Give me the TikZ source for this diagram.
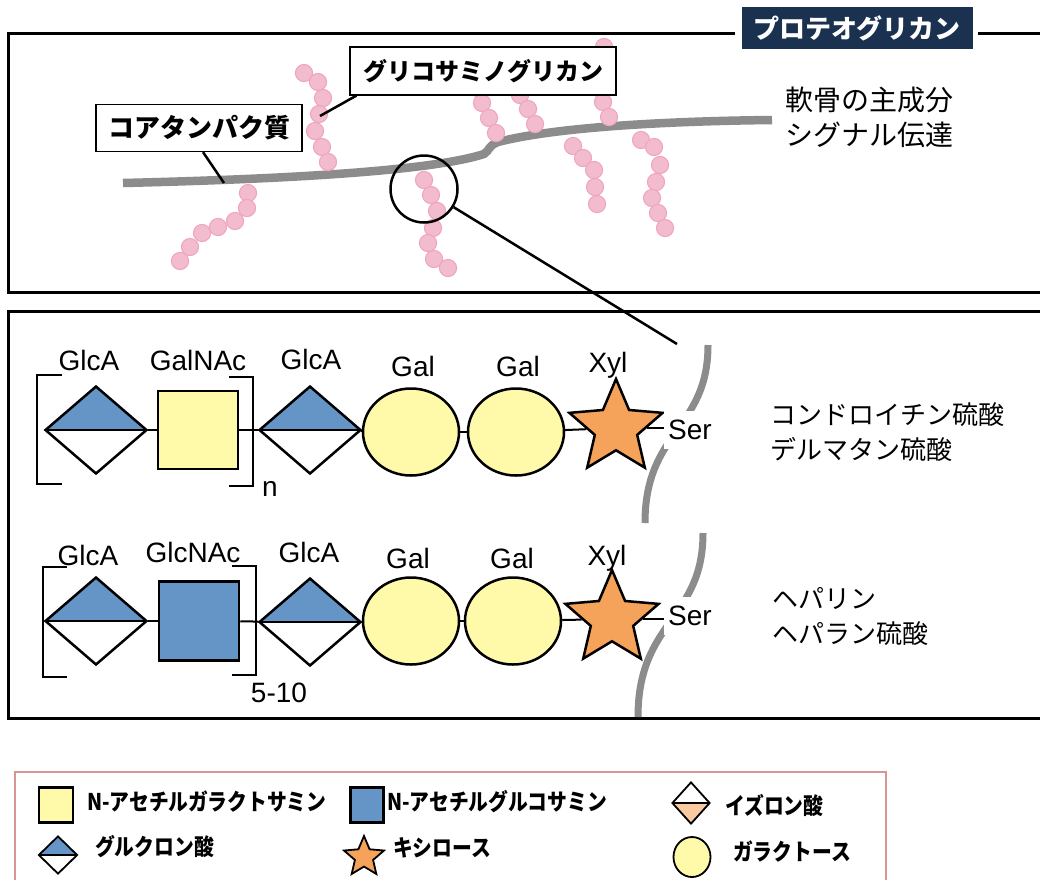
\documentclass[tikz,border=0pt]{standalone}
\usepackage{fontspec}
\setmainfont{Liberation Sans}
\newfontfamily\jp{Noto Sans CJK JP}
\newfontfamily\jpnarrow{Noto Sans CJK JP}[FakeStretch=0.86]
\usetikzlibrary{shapes.geometric}

\definecolor{glcblue}{HTML}{6495C6}
\definecolor{galyellow}{HTML}{FFFAAA}
\definecolor{xylorange}{HTML}{F5A35A}
\definecolor{idopeach}{HTML}{F9C9A0}
\definecolor{beadpink}{HTML}{F2BBCE}
\definecolor{beadedge}{HTML}{F0A5B9}
\definecolor{coregray}{HTML}{8C8C8C}
\definecolor{titlenavy}{HTML}{1B3150}
\definecolor{legendred}{HTML}{D99594}

\tikzset{
  frame/.style={line width=3pt},
  core/.style={coregray, line width=8.5pt},
  membrane/.style={coregray, line width=7pt},
  bead/.style={fill=beadpink, draw=beadedge, line width=1pt},
  leader/.style={line width=2.5pt},
  labelbox/.style={draw, fill=white, line width=1.2pt, inner sep=0pt,
    font=\jp\bfseries\fontsize{26}{30}\selectfont},
  sugar/.style={draw, line width=2.5pt, inner sep=0pt},
  glca/.style={sugar, diamond, fill=white, minimum width=102pt, minimum height=88pt,
    path picture={
      \fill[glcblue] (path picture bounding box.west) -- (path picture bounding box.north)
        -- (path picture bounding box.east) -- cycle;
      \draw (path picture bounding box.west) -- (path picture bounding box.east);}},
  idoa/.style={sugar, diamond, fill=white,
    path picture={
      \fill[idopeach] (path picture bounding box.west) -- (path picture bounding box.south)
        -- (path picture bounding box.east) -- cycle;
      \draw (path picture bounding box.west) -- (path picture bounding box.east);}},
  galnac/.style={sugar, rectangle, fill=galyellow, minimum width=80pt, minimum height=78pt},
  glcnac/.style={sugar, rectangle, fill=glcblue, minimum width=80pt, minimum height=79pt},
  gal/.style={sugar, ellipse, fill=galyellow, minimum width=96pt, minimum height=87pt},
  xyl/.style={sugar, star, star points=5, star point ratio=2.2, fill=xylorange, minimum size=98pt},
  ser/.style={fill=white, inner xsep=4pt, inner ysep=9pt, font=\fontsize{28}{30}\selectfont},
  link/.style={line width=2pt},
  bracket/.style={line width=2.5pt},
  label/.style={inner sep=0pt, text height=20pt, text depth=0pt, font=\fontsize{28}{30}\selectfont},
  sidetext/.style={anchor=west, align=left, inner sep=0pt, font=\jp\fontsize{26}{35}\selectfont},
  legendtext/.style={anchor=west, inner sep=0pt, font=\jpnarrow\bfseries\fontsize{23}{26}\selectfont}
}

\begin{document}
\begin{tikzpicture}[x=1pt,y=-1pt]
\path[use as bounding box, fill=white] (0,0) rectangle (1040,879);

% upper panel: core protein with its chains
\draw[frame] (735,33) -- (8,33) -- (8,292) -- (1040,292);
\draw[frame] (978,33) -- (1040,33);
\node[fill=titlenavy, text=white, minimum width=231pt, minimum height=42pt, inner sep=0pt,
  font=\jp\bfseries\fontsize{26}{30}\selectfont] (pg) at (857,28) {プロテオグリカン};

\draw[core] (123,183) .. controls (330,178) and (440,168) .. (484,154)
  .. controls (490,150) and (488,146) .. (498,142)
  .. controls (560,126) and (680,121) .. (772,120);

% sugar chains as beads
\foreach \x/\y in {304/73, 318/82, 323/98, 319/114, 315/131, 322/147, 328/162,
    248/193, 247/208, 235/221, 218/227, 202/233, 190/247, 180/261,
    424/180, 431/195, 437/211, 433/228, 428/243, 434/259, 448/268,
    478/88, 482/103, 489/118, 496/133,
    516/81, 520/95, 528/109, 535/124,
    604/47, 602/62, 601/77, 602/90, 603/102, 609/117,
    573/146, 583/158, 594/170, 595/187, 597/204,
    641/140, 654/147, 660/165, 656/182, 652/198, 658/213, 665/228}
  \filldraw[bead] (\x,\y) circle[radius=8.6pt];

\node[circle, draw, line width=2.5pt, minimum size=67pt, inner sep=0pt] (lens) at (424,189) {};
\coordinate (lensTip) at (677,344);
\draw[leader] (lens) -- (lensTip);

\node[labelbox, minimum width=206pt, minimum height=47pt] (corelbl) at (199,128) {コアタンパク質};
\node[labelbox, minimum width=266pt, minimum height=48pt,
  font=\jp\bfseries\fontsize{24}{30}\selectfont] (gaglbl) at (483,71) {グリコサミノグリカン};
\coordinate (coreTip) at (224,183);
\coordinate (gagTip) at (320,116);
\draw[leader] ([xshift=4pt]corelbl.south) -- (coreTip);
\draw[leader] ([xshift=7pt]gaglbl.south west) -- (gagTip);

\node[sidetext, font=\jp\fontsize{28}{35}\selectfont] (role) at (785,117) {軟骨の主成分\\シグナル伝達};

% lower panel: linkage regions
\draw[frame] (1040,311) -- (8,311) -- (8,718) -- (1040,718);

\draw[membrane] (708,345) .. controls (708,430) and (645,430) .. (645,523);
\draw[membrane] (703,533) .. controls (703,620) and (638,620) .. (638,717);

% chondroitin / dermatan
\node[glca] (glcA1) at (96,430) {};
\node[galnac] (nac1) at (198,430) {};
\node[glca] (glcB1) at (310,430) {};
\node[gal] (galA1) at (411,432) {};
\node[gal] (galB1) at (516,432) {};
\node[xyl] (xyl1) at (616,428) {};
\node[ser] (ser1) at (690,430) {Ser};
\draw[bracket] (62,375) -- (37,375) -- (37,484) -- (62,484);
\draw[bracket] (229,377) -- (253,377) -- (253,486) -- (229,486);

\node[label] (t11) at (89,360) {GlcA};
\node[label] (t12) at (198,360) {GalNAc};
\node[label] (t13) at (311,359) {GlcA};
\node[label] (t14) at (413,366) {Gal};
\node[label] (t15) at (518,366) {Gal};
\node[label] (t16) at (608,362) {Xyl};
\node[label] (rep1) at (270,486) {n};
\node[sidetext] (cs) at (770,432) {コンドロイチン硫酸\\デルマタン硫酸};

% heparin / heparan
\node[glca] (glcA2) at (96,621) {};
\node[glcnac] (nac2) at (199,621) {};
\node[glca] (glcB2) at (310,622) {};
\node[gal] (galA2) at (411,621) {};
\node[gal] (galB2) at (513,621) {};
\node[xyl] (xyl2) at (612,619) {};
\node[ser] (ser2) at (690,616) {Ser};
\draw[bracket] (67,567) -- (43,567) -- (43,677) -- (67,677);
\draw[bracket] (232,566) -- (256,566) -- (256,675) -- (232,675);

\node[label] (t21) at (88,555) {GlcA};
\node[label] (t22) at (193,552) {GlcNAc};
\node[label] (t23) at (309,552) {GlcA};
\node[label] (t24) at (408,558) {Gal};
\node[label] (t25) at (512,558) {Gal};
\node[label] (t26) at (607,555) {Xyl};
\node[label] (rep2) at (279,692) {5-10};
\node[sidetext] (hs) at (772,616) {ヘパリン\\ヘパラン硫酸};

\foreach \r in {1,2} {
  \foreach \a/\b in {glcA/nac, nac/glcB, glcB/galA, galA/galB, galB/xyl}
    \draw[link] (\a\r) -- (\b\r);
  \draw[link] (xyl\r) -- (xyl\r -| ser\r.west);
}

% legend
\draw[legendred, line width=2pt] (15,882) -- (15,772) -- (886,772) -- (886,882);
\node[galnac, minimum width=34pt, minimum height=35pt] (kNac) at (56,805) {};
\node[legendtext] (kNacT) at (87,802) {N-アセチルガラクトサミン};
\node[glcnac, minimum width=33pt, minimum height=35pt] (kGlcnac) at (367,805) {};
\node[legendtext] (kGlcnacT) at (387,802) {N-アセチルグルコサミン};
\node[idoa, line width=1.8pt, minimum width=38pt, minimum height=42pt] (kIdo) at (691,803) {};
\node[legendtext] (kIdoT) at (725,805) {イズロン酸};
\node[glca, line width=1.8pt, minimum width=39pt, minimum height=38pt] (kGlca) at (58,855) {};
\node[legendtext] (kGlcaT) at (95,847) {グルクロン酸};
\node[xyl, line width=1.8pt, minimum size=42pt] (kXyl) at (364,857) {};
\node[legendtext] (kXylT) at (393,848) {キシロース};
\node[gal, line width=1.8pt, minimum width=37pt, minimum height=40pt] (kGal) at (692,857) {};
\node[legendtext] (kGalT) at (733,852) {ガラクトース};
\end{tikzpicture}
\end{document}
